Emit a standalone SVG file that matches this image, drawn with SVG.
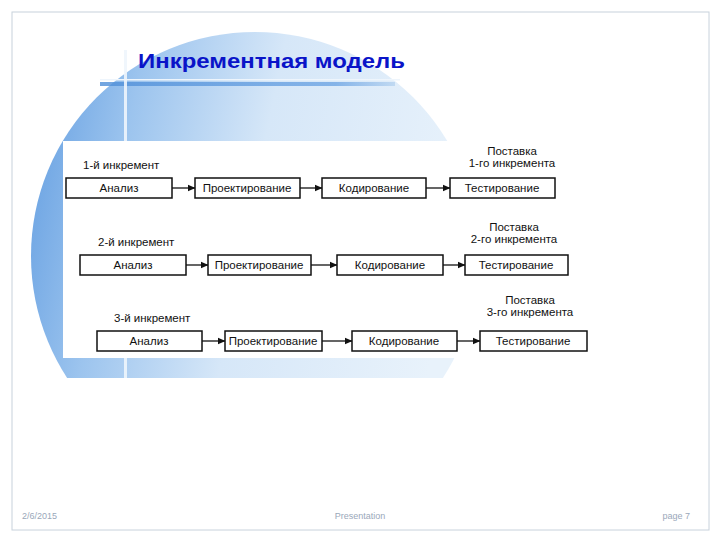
<svg xmlns="http://www.w3.org/2000/svg" width="720" height="540" viewBox="0 0 720 540">
<defs>
<linearGradient id="bg" x1="0" y1="0" x2="1" y2="0.2">
<stop offset="0" stop-color="#5f9be0"/>
<stop offset="0.25" stop-color="#9cc4ee"/>
<stop offset="0.55" stop-color="#d6e7f8"/>
<stop offset="1" stop-color="#e8f2fb"/>
</linearGradient>
<linearGradient id="band" x1="0" y1="0" x2="1" y2="0">
<stop offset="0" stop-color="#4f8fd8"/>
<stop offset="0.8" stop-color="#6fa6e4"/>
<stop offset="1" stop-color="#b8d4f0"/>
</linearGradient>
<clipPath id="cut"><rect x="0" y="0" width="720" height="378"/></clipPath>
<marker id="ah" markerWidth="8" markerHeight="8" refX="7" refY="4" orient="auto" markerUnits="userSpaceOnUse">
<path d="M0,0.8 L7.5,4 L0,7.2 Z" fill="#111"/>
</marker>
<style>
.box{fill:#fff;stroke:#111;stroke-width:1.5}
.t{font-family:"Liberation Sans",Arial,sans-serif;font-size:11.5px;fill:#111;text-anchor:middle}
.lab{font-family:"Liberation Sans",Arial,sans-serif;font-size:11.5px;fill:#111}
.c{stroke:#111;stroke-width:1.3;fill:none;marker-end:url(#ah)}
.f{font-family:"Liberation Sans",Arial,sans-serif;font-size:9px;fill:#9aa8ba}
</style>
</defs>
<rect x="0" y="0" width="720" height="540" fill="#fff"/>
<rect x="12" y="12" width="697" height="518" fill="#fff" stroke="#c8d2dc" stroke-width="1"/>
<g id="background" clip-path="url(#cut)">
<circle cx="255" cy="256" r="224" fill="url(#bg)"/>
<rect x="100" y="82" width="295" height="4" fill="url(#band)" opacity="0.8"/>
<rect x="100" y="79" width="300" height="1.5" fill="#eef5fc"/>
<rect x="124" y="50" width="3" height="328" fill="#eef5fc" opacity="0.9"/>
</g>
<text id="title" x="138" y="68" font-family="'Liberation Sans',Arial,sans-serif" font-size="20" font-weight="bold" fill="#0a14c8" textLength="267" lengthAdjust="spacingAndGlyphs">Инкрементная модель</text>
<rect id="panel" x="63" y="141" width="527" height="217" fill="#fff"/>
<g id="connectors">
<line class="c" x1="172" y1="188" x2="195" y2="188"/>
<line class="c" x1="300" y1="188" x2="322" y2="188"/>
<line class="c" x1="426" y1="188" x2="450" y2="188"/>
<line class="c" x1="186" y1="265" x2="208" y2="265"/>
<line class="c" x1="311" y1="265" x2="337" y2="265"/>
<line class="c" x1="443" y1="265" x2="465" y2="265"/>
<line class="c" x1="202" y1="341" x2="225" y2="341"/>
<line class="c" x1="322" y1="341" x2="352" y2="341"/>
<line class="c" x1="457" y1="341" x2="480" y2="341"/>
</g>
<g id="inc1">
<text class="lab" x="83" y="169">1-й инкремент</text>
<text class="t" x="512" y="155">Поставка</text>
<text class="t" x="512" y="167">1-го инкремента</text>
<g id="n1a"><rect class="box" x="66" y="178" width="106" height="20"/><text class="t" x="119" y="192">Анализ</text></g>
<g id="n1b"><rect class="box" x="195" y="178" width="105" height="20"/><text class="t" x="247" y="192">Проектирование</text></g>
<g id="n1c"><rect class="box" x="322" y="178" width="104" height="20"/><text class="t" x="374" y="192">Кодирование</text></g>
<g id="n1d"><rect class="box" x="450" y="178" width="105" height="20"/><text class="t" x="502" y="192">Тестирование</text></g>
</g>
<g id="inc2">
<text class="lab" x="98" y="246">2-й инкремент</text>
<text class="t" x="514" y="231">Поставка</text>
<text class="t" x="514" y="243">2-го инкремента</text>
<g id="n2a"><rect class="box" x="80" y="255" width="106" height="20"/><text class="t" x="133" y="269">Анализ</text></g>
<g id="n2b"><rect class="box" x="208" y="255" width="103" height="20"/><text class="t" x="259" y="269">Проектирование</text></g>
<g id="n2c"><rect class="box" x="337" y="255" width="106" height="20"/><text class="t" x="390" y="269">Кодирование</text></g>
<g id="n2d"><rect class="box" x="465" y="255" width="103" height="20"/><text class="t" x="516" y="269">Тестирование</text></g>
</g>
<g id="inc3">
<text class="lab" x="114" y="322">3-й инкремент</text>
<text class="t" x="530" y="304">Поставка</text>
<text class="t" x="530" y="316">3-го инкремента</text>
<g id="n3a"><rect class="box" x="97" y="331" width="105" height="20"/><text class="t" x="149" y="345">Анализ</text></g>
<g id="n3b"><rect class="box" x="225" y="331" width="97" height="20"/><text class="t" x="273" y="345">Проектирование</text></g>
<g id="n3c"><rect class="box" x="352" y="331" width="105" height="20"/><text class="t" x="404" y="345">Кодирование</text></g>
<g id="n3d"><rect class="box" x="480" y="331" width="107" height="20"/><text class="t" x="533" y="345">Тестирование</text></g>
</g>
<g id="footer">
<text class="f" x="22" y="519">2/6/2015</text>
<text class="f" x="360" y="519" text-anchor="middle">Presentation</text>
<text class="f" x="690" y="519" text-anchor="end">page 7</text>
</g>
</svg>
